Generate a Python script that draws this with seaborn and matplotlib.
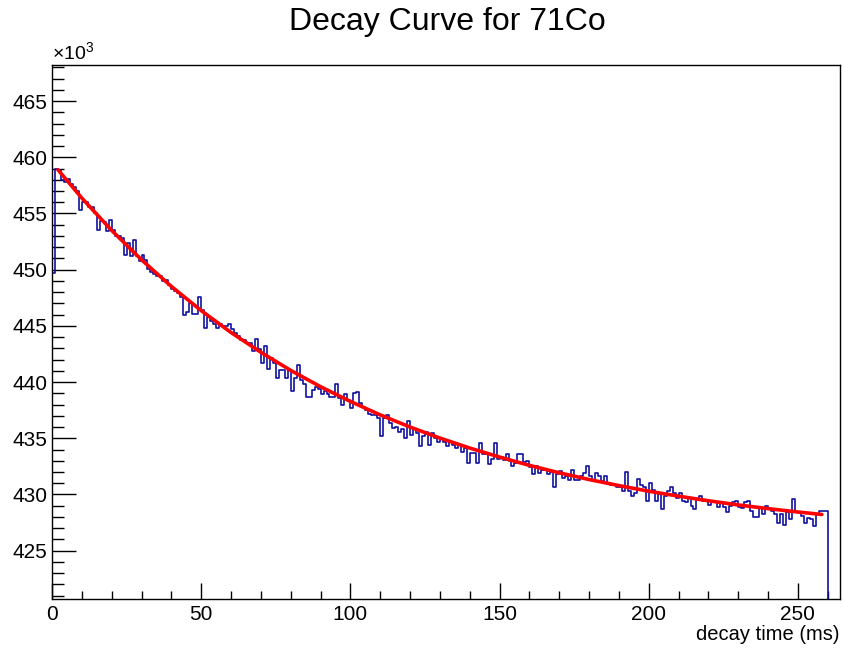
import numpy as np
import matplotlib
matplotlib.use("Agg")
import matplotlib.pyplot as plt
import seaborn as sns
from matplotlib.ticker import MultipleLocator, FixedLocator

# ---- data (counts in units of 10^3 per 1 ms bin) ----
counts_k = [
    449.7, 459.0, 458.9, 458.0, 457.8, 458.1, 457.6, 457.4, 457.0, 455.3,
    456.0, 456.0, 455.6, 455.6, 455.0, 453.5, 454.3, 454.2, 453.4, 454.4,
    453.5, 453.0, 453.0, 452.8, 451.3, 452.4, 451.2, 452.6, 451.2, 450.8,
    451.3, 450.9, 450.1, 449.8, 449.6, 449.4, 449.4, 449.0, 449.1, 448.6,
    448.3, 448.1, 447.9, 447.6, 446.0, 446.2,
    447.0, 446.1, 446.1, 447.6, 446.4, 444.8, 445.8, 445.4, 445.2, 444.8,
    445.2, 445.0, 445.0, 445.2, 444.7, 444.4, 444.1, 443.7, 443.7, 443.5,
    443.5, 442.8, 443.8, 442.9, 441.7, 443.2, 441.2, 442.1, 441.7, 440.4,
    441.1, 441.1, 440.4, 441.1, 439.2, 440.4, 441.5, 440.2, 439.8, 438.7,
    438.7, 439.3, 439.6, 439.4, 438.9,
    439.2, 438.9, 438.7, 438.7, 439.8, 438.6, 438.0, 438.9, 438.4, 437.7,
    439.0, 439.1, 438.1, 437.8, 437.5, 437.2, 437.1, 437.1, 436.8, 435.2,
    436.8, 437.1, 436.4, 435.9, 436.0, 435.6, 435.8, 435.0, 436.5, 435.3,
    435.8, 435.5, 434.3, 435.2, 435.6, 434.4, 435.5, 435.0, 434.7, 434.9,
    434.7, 434.3, 434.7, 434.4, 434.1, 434.4, 433.8, 434.1, 432.8,
    433.7, 433.7, 432.8, 434.6, 433.6, 433.6, 432.7, 433.2, 434.6, 433.2,
    433.3, 433.1, 433.6, 433.0, 432.5, 432.8, 433.6, 433.6, 432.9, 433.0,
    432.4, 431.8, 432.5, 431.9, 432.2, 432.2, 431.8, 432.0, 430.7, 431.8,
    432.1, 431.5, 431.6, 431.3, 432.2, 431.3, 431.3, 431.6, 431.9, 432.5,
    431.6, 431.2, 431.9, 431.6, 431.2, 431.6,
    431.0, 430.8, 430.8, 430.7, 430.7, 430.3, 432.0, 430.3, 429.9, 430.1,
    431.4, 430.8, 430.7, 429.4, 431.0, 430.4, 429.4, 430.0, 428.7, 429.9,
    430.3, 430.7, 430.1, 429.7, 430.1, 429.4, 429.3, 429.7, 429.0, 428.7,
    429.6, 429.9, 429.4, 429.4, 429.1, 429.3, 429.3, 428.9, 429.3, 428.9,
    428.4, 429.0, 429.3, 429.4, 428.9,
    428.8, 429.3, 429.4, 428.5, 428.0, 428.0, 428.8, 428.3, 429.0, 428.7,
    428.5, 428.3, 427.5, 428.3, 427.3, 428.4, 427.8, 429.6, 428.4, 428.4,
    428.1, 427.5, 427.9, 427.8, 427.2, 428.3, 428.5, 428.5, 428.5,
]
bin_edges = list(range(0, 261))
after_last_bin = [0.0]

fit_t = [2, 10, 20, 30, 40, 50, 60, 70, 80, 90, 100, 110, 120, 130, 140,
         150, 160, 170, 180, 190, 200, 210, 220, 230, 240, 250, 258]
fit_k = [458.89, 456.37, 453.49, 450.88, 448.51, 446.36, 444.41, 442.65,
         441.04, 439.59, 438.28, 437.08, 436.00, 435.02, 434.13, 433.33,
         432.59, 431.93, 431.33, 430.79, 430.29, 429.85, 429.44, 429.07,
         428.74, 428.44, 428.22]

x_ticks = [0, 50, 100, 150, 200, 250]
y_ticks = [425, 430, 435, 440, 445, 450, 455, 460, 465]

title = "Decay Curve for 71Co"
xlabel = "decay time (ms)"

# ---- style ----
sns.set_style("ticks")
plt.rcParams['font.family'] = ['Liberation Sans', 'DejaVu Sans']
plt.rcParams['mathtext.fontset'] = 'custom'
plt.rcParams['mathtext.rm'] = 'Liberation Sans'
plt.rcParams['mathtext.it'] = 'Liberation Sans'
plt.rcParams['text.color'] = 'black'
plt.rcParams['axes.labelcolor'] = 'black'
plt.rcParams['xtick.color'] = 'black'
plt.rcParams['ytick.color'] = 'black'

W, H = 844, 650
fig = plt.figure(figsize=(W / 100, H / 100), dpi=100)
fig.patch.set_facecolor('white')
ax = fig.add_axes([52 / W, 1 - 599 / H, (840 - 52) / W, (599 - 65) / H])
ax.set_facecolor('white')

step_y = counts_k + after_last_bin
sns.lineplot(x=bin_edges, y=step_y, drawstyle='steps-post', color='#1010a0',
             lw=1.2, ax=ax, estimator=None, sort=False)
sns.lineplot(x=fit_t, y=fit_k, color='#ff0000', lw=2.6, ax=ax,
             estimator=None, sort=False)

ax.set_xlim(0, 264.1)
ax.set_ylim(420.70, 468.21)

ax.xaxis.set_major_locator(FixedLocator(x_ticks))
ax.xaxis.set_minor_locator(MultipleLocator(10))
ax.yaxis.set_major_locator(FixedLocator(y_ticks))
ax.yaxis.set_minor_locator(MultipleLocator(1))
ax.set_xticklabels([str(v) for v in x_ticks])
ax.set_yticklabels([str(v) for v in y_ticks])

ax.tick_params(axis='x', which='major', direction='in', length=11.5, width=1,
               labelsize=15, pad=4.5, colors='black', top=False)
ax.tick_params(axis='x', which='minor', direction='in', length=5.8, width=1,
               top=False)
ax.tick_params(axis='y', which='major', direction='in', length=17.3, width=1,
               labelsize=15, pad=3.5, colors='black', right=False)
ax.tick_params(axis='y', which='minor', direction='in', length=8.6, width=1,
               right=False)

for s in ax.spines.values():
    s.set_visible(True)
    s.set_color('black')
    s.set_linewidth(1.0)

ax.set_xlabel(xlabel, fontsize=14.5, ha='right', va='top', color='black')
ax.xaxis.set_label_coords(1.0, -(625 - 599) / (599 - 65))
ax.set_ylabel('')

ax.text(0.0, 1.004, r'$\times10^{3}$', transform=ax.transAxes, ha='left',
        va='bottom', fontsize=14, color='black')

fig.text(447.5 / W, 1 - 22 / H, title, ha='center', va='center', fontsize=23,
         color='black')

fig.savefig('out.png', dpi=100, facecolor='white')
